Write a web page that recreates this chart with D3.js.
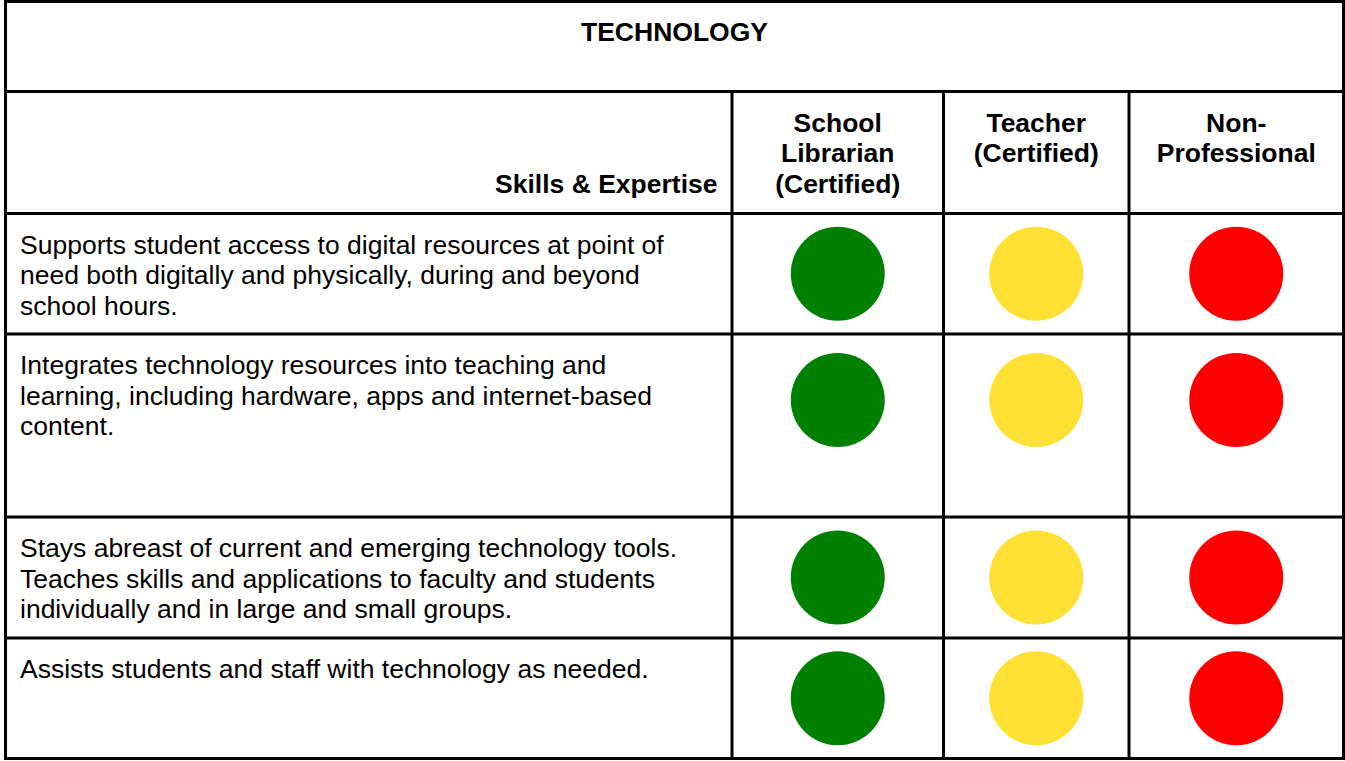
<!DOCTYPE html>
<html>
<head>
<meta charset="utf-8">
<script src="https://cdn.jsdelivr.net/npm/d3@7/dist/d3.min.js"></script>
<style>
  html, body { margin: 0; padding: 0; background: #fff; }
  svg { display: block; }
  text { font-family: "Liberation Sans", Arial, sans-serif; fill: #000; }
</style>
</head>
<body>
<svg id="chart" width="1345" height="761"></svg>
<script>
// ---- data ----
const title = "TECHNOLOGY";
const rowHeaderLabel = "Skills & Expertise";
const roles = [
  ["School", "Librarian", "(Certified)"],
  ["Teacher", "(Certified)"],
  ["Non-", "Professional"]
];
const skills = [
  ["Supports student access to digital resources at point of",
   "need both digitally and physically, during and beyond",
   "school hours."],
  ["Integrates technology resources into teaching and",
   "learning, including hardware, apps and internet-based",
   "content."],
  ["Stays abreast of current and emerging technology tools.",
   "Teaches skills and applications to faculty and students",
   "individually and in large and small groups."],
  ["Assists students and staff with technology as needed."]
];
const librarianRatings = ["high", "high", "high", "high"];
const teacherRatings = ["medium", "medium", "medium", "medium"];
const nonProfessionalRatings = ["low", "low", "low", "low"];
const ratingLevels = ["high", "medium", "low"];
const ratingColors = ["#008000", "#FFE135", "#FF0000"];

// ---- layout ----
const L = {
  left: 5.5, right: 1343.5, top: 1.5, bottom: 758.5,
  colEdges: [5.5, 732, 943.5, 1129, 1343.5],
  titleBottom: 91.5, headerBottom: 213.5,
  rowBottoms: [334, 517, 638, 758.5],
  fontSize: 26.5, lineH: 30.5, baseOff: 40, padX: 14.5,
  r: 47, maxCircleOff: 66, stroke: 3
};

const svg = d3.select("#chart");
const color = d3.scaleOrdinal().domain(ratingLevels).range(ratingColors);
const ratingsByCol = [librarianRatings, teacherRatings, nonProfessionalRatings];

// row boundaries
const rowTops = [L.headerBottom].concat(L.rowBottoms.slice(0, -1));
const rows = skills.map((lines, i) => ({ lines, top: rowTops[i], bottom: L.rowBottoms[i] }));

// title
svg.append("text")
  .attr("x", (L.left + L.right) / 2)
  .attr("y", L.top + L.baseOff - 0.5)
  .attr("text-anchor", "middle")
  .attr("font-weight", "bold")
  .attr("font-size", L.fontSize)
  .text(title);

// header: skills label (bottom aligned)
svg.append("text")
  .attr("x", L.colEdges[1] - L.padX)
  .attr("y", L.titleBottom + L.baseOff + 2 * L.lineH)
  .attr("text-anchor", "end")
  .attr("font-weight", "bold")
  .attr("font-size", L.fontSize)
  .text(rowHeaderLabel);

// header: role labels
roles.forEach((lines, c) => {
  const cx = (L.colEdges[c + 1] + L.colEdges[c + 2]) / 2;
  svg.append("text")
    .attr("text-anchor", "middle")
    .attr("font-weight", "bold")
    .attr("font-size", L.fontSize)
    .selectAll("tspan")
    .data(lines)
    .join("tspan")
    .attr("x", cx)
    .attr("y", (d, i) => L.titleBottom + L.baseOff + i * L.lineH)
    .text(d => d);
});

// skill rows text
rows.forEach(row => {
  svg.append("text")
    .attr("font-size", L.fontSize)
    .selectAll("tspan")
    .data(row.lines)
    .join("tspan")
    .attr("x", L.left + L.padX)
    .attr("y", (d, i) => row.top + L.baseOff + i * L.lineH)
    .text(d => d);
});

// circles
ratingsByCol.forEach((ratings, c) => {
  const cx = (L.colEdges[c + 1] + L.colEdges[c + 2]) / 2;
  svg.append("g")
    .selectAll("circle")
    .data(ratings)
    .join("circle")
    .attr("cx", cx)
    .attr("cy", (d, i) => Math.min((rows[i].top + rows[i].bottom) / 2, rows[i].top + L.maxCircleOff))
    .attr("r", L.r)
    .attr("fill", d => color(d));
});

// grid lines
const g = svg.append("g").attr("stroke", "#000").attr("stroke-width", L.stroke).attr("fill", "none");
g.append("rect")
  .attr("x", L.left).attr("y", L.top)
  .attr("width", L.right - L.left).attr("height", L.bottom - L.top);
[L.titleBottom, L.headerBottom].concat(L.rowBottoms.slice(0, -1)).forEach(y => {
  g.append("line").attr("x1", L.left).attr("x2", L.right).attr("y1", y).attr("y2", y);
});
L.colEdges.slice(1, -1).forEach(x => {
  g.append("line").attr("x1", x).attr("x2", x).attr("y1", L.titleBottom).attr("y2", L.bottom);
});
</script>
</body>
</html>
